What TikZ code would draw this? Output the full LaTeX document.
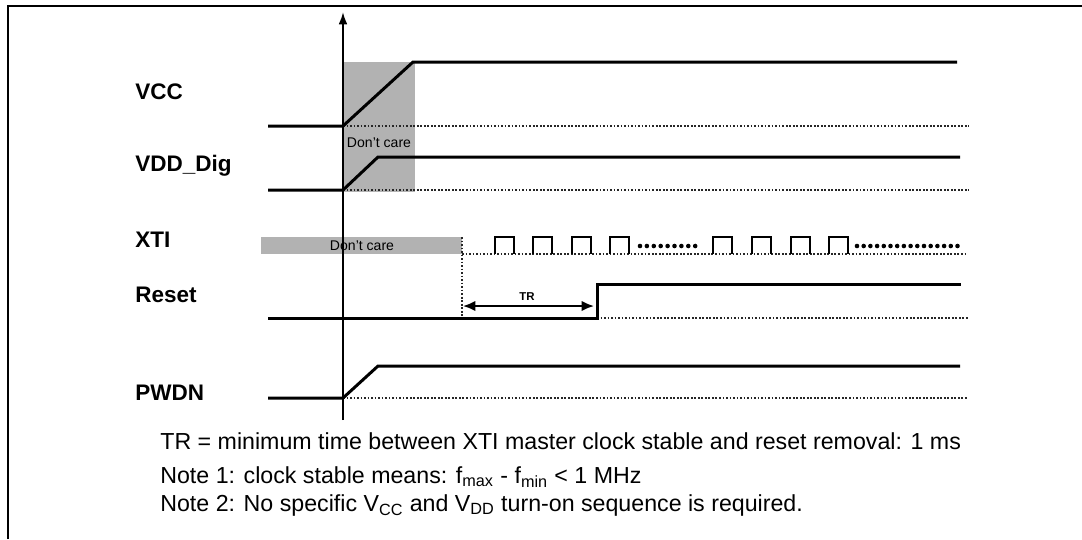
\documentclass[tikz,border=0pt]{standalone}
\usepackage{fontspec}
\setmainfont{Liberation Sans}
\usetikzlibrary{arrows.meta}
\tikzset{
  sig/.style={line width=1.7pt},
  base/.style={densely dotted, line width=1pt, black!85},
  dcare/.style={fill=black!30},
  lbl/.style={anchor=base west, inner sep=0pt, font=\fontsize{12.8}{15}\selectfont\bfseries},
  note/.style={anchor=base west, inner sep=0pt, font=\fontsize{13.2}{15}\selectfont},
  dctext/.style={inner sep=0pt, font=\fontsize{8}{9}\selectfont}
}
\begin{document}
\begin{tikzpicture}[x=0.02cm,y=-0.02cm]
  \useasboundingbox (0,0) rectangle (1082,539);
  % 外框
  \draw[line width=1.1pt] (8,539) -- (8,6) -- (1082,6);
  % 灰色区域 (Don't care)
  \fill[dcare] (343,62) rectangle (415,192);
  \fill[dcare] (261,237) rectangle (462,254);
  \node[dctext] (dc1) at (379,143) {Don't care};
  \node[dctext] (dc2) at (362,246) {Don't care};
  % 时间轴
  \draw[line width=1.1pt,-{Latex[length=7pt,width=5pt]}] (343,420) -- (343,12);
  % 信号名
  \node[lbl] (vcc) at (135,99) {VCC};
  \node[lbl] (vdd) at (135,171) {VDD\_Dig};
  \node[lbl] (xti) at (135,247) {XTI};
  \node[lbl] (rst) at (135,302) {Reset};
  \node[lbl] (pwdn) at (135,400) {PWDN};
  % VCC
  \draw[base] (343,126) -- (969,126);
  \draw[sig] (268,126) -- (343,126) -- (413,62) -- (957,62);
  % VDD_Dig
  \draw[base] (343,190) -- (969,190);
  \draw[sig] (268,190) -- (343,190) -- (378,157) -- (960,157);
  % XTI 时钟
  \draw[base] (462,254) -- (968,254);
  \draw[base] (462,237) -- (462,318);
  \foreach \p in {495,533,572,610,713,752,791,829}
    \draw[line width=0.9pt] (\p,254) -- (\p,237) -- (\p+19,237) -- (\p+19,254);
  \foreach \i in {0,...,8}
    \fill (640+\i*6.9,246) circle (1.3pt);
  \foreach \i in {0,...,15}
    \fill (857+\i*6.7,246) circle (1.3pt);
  % Reset
  \draw[base] (597,318) -- (968,318);
  \draw[sig] (268,318) -- (597,318) -- (597,284) -- (961,284);
  % TR
  \coordinate (tra) at (463,306);
  \coordinate (trb) at (594,306);
  \draw[line width=1.2pt,{Latex[length=7pt,width=6pt]}-{Latex[length=7pt,width=6pt]}] (tra) -- (trb);
  \node[inner sep=0pt,font=\fontsize{6.5}{7}\selectfont\bfseries] (tr) at (527,297) {TR};
  % PWDN
  \draw[base] (343,398) -- (968,398);
  \draw[sig] (268,398) -- (343,398) -- (378,366) -- (960,366);
  % 注释
  \node[note] (n0) at (160,449) {TR = minimum time between XTI master clock stable and reset removal: 1 ms};
  \node[note] (n1) at (160,483) {Note 1: clock stable means: f\textsubscript{max} - f\textsubscript{min} < 1 MHz};
  \node[note] (n2) at (160,511) {Note 2: No specific V\textsubscript{CC} and V\textsubscript{DD} turn-on sequence is required.};
\end{tikzpicture}
\end{document}
